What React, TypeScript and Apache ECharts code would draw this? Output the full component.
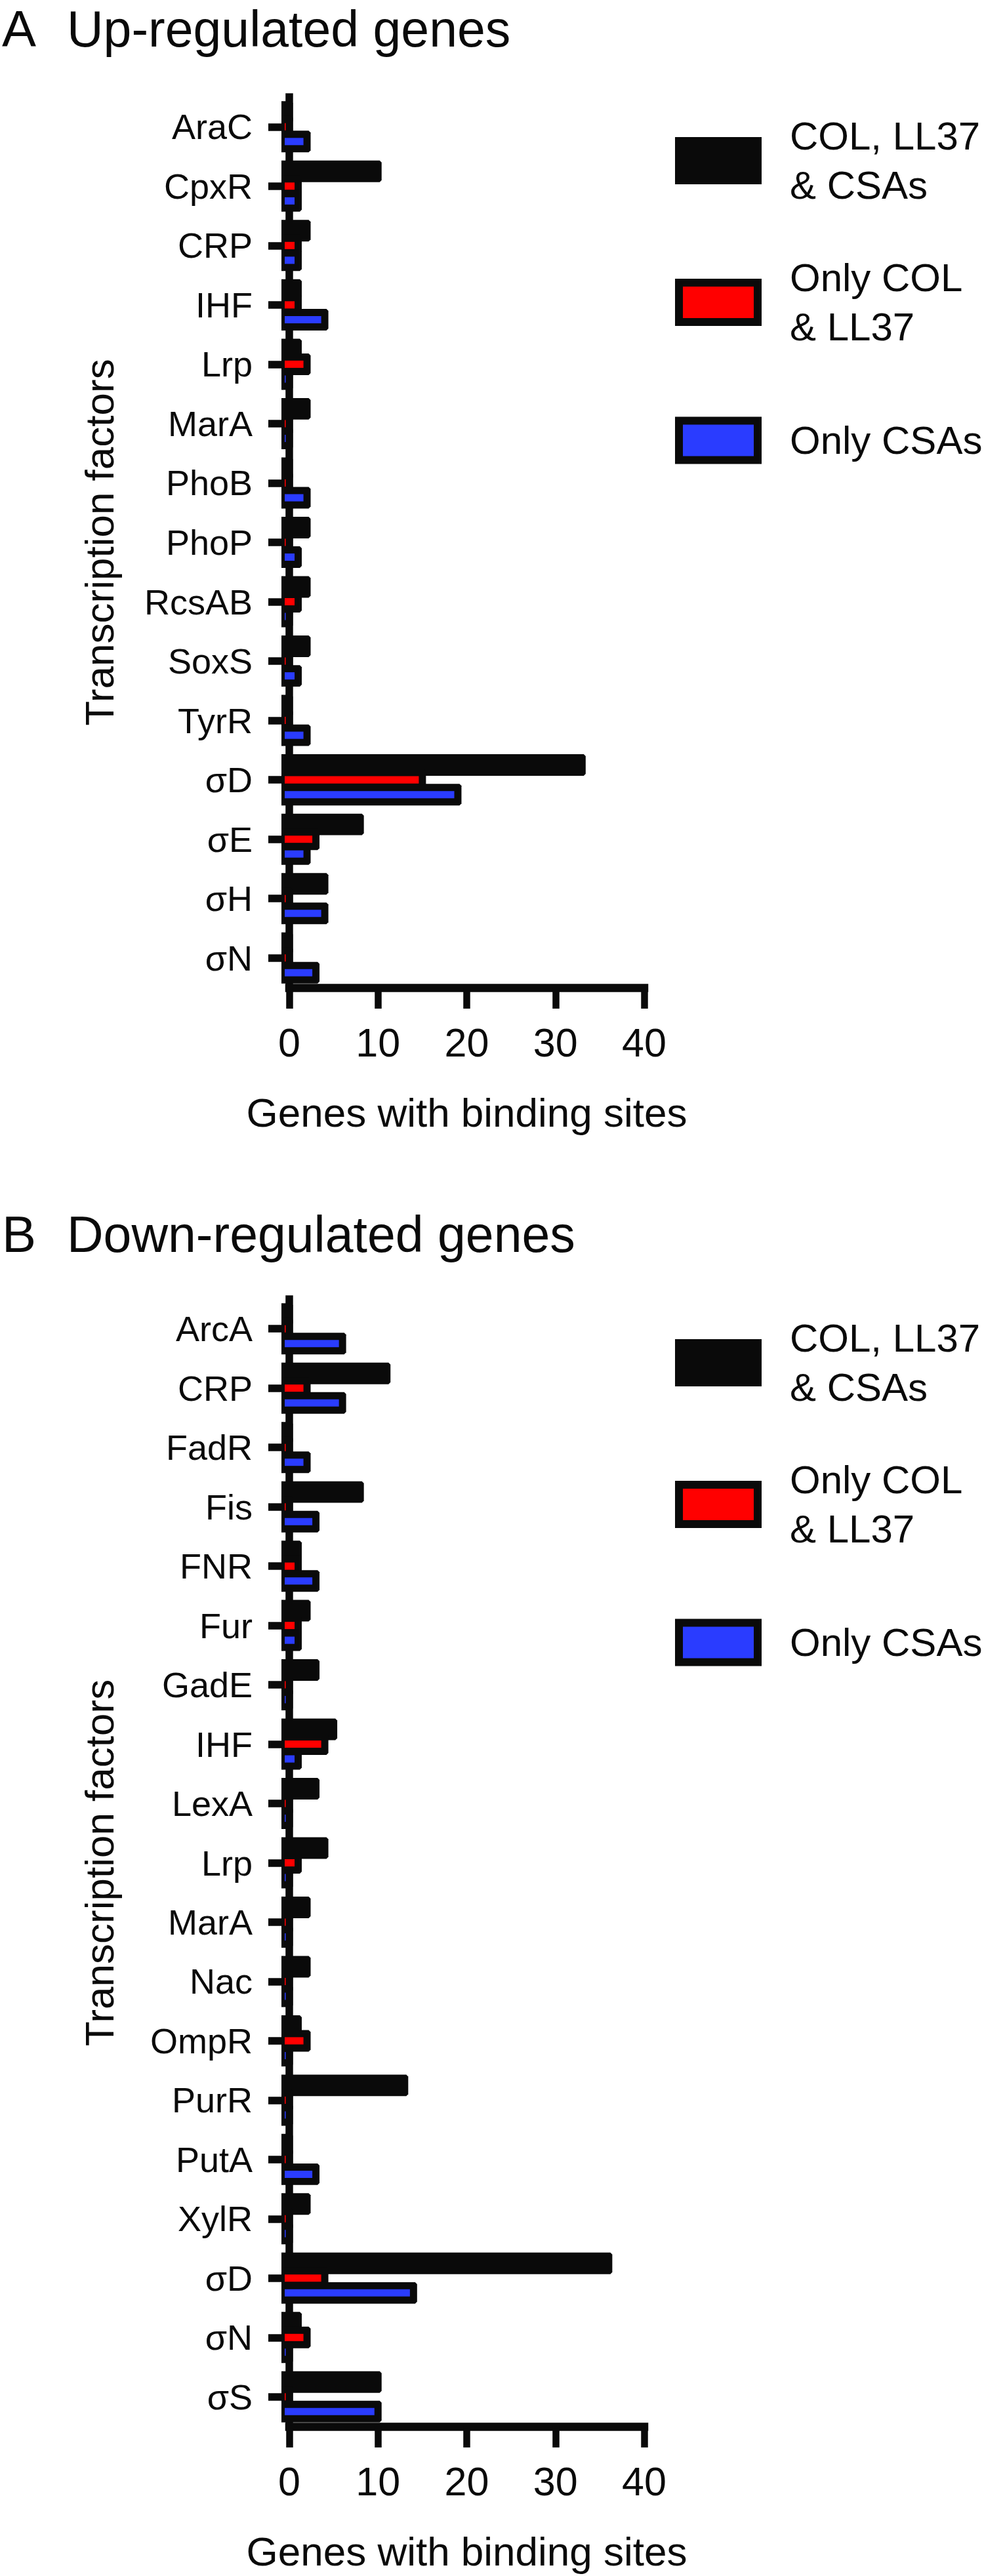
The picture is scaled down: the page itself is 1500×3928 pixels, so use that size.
import React, { useEffect, useRef } from 'react';
import * as echarts from 'echarts';

// ---------- data ----------
const upCategories = ['AraC', 'CpxR', 'CRP', 'IHF', 'Lrp', 'MarA', 'PhoB', 'PhoP', 'RcsAB', 'SoxS', 'TyrR', 'σD', 'σE', 'σH', 'σN'];
const upAll = [0, 10, 2, 1, 1, 2, 0, 2, 2, 2, 0, 33, 8, 4, 0];
const upColLL37 = [0, 1, 1, 1, 2, 0, 0, 0, 1, 0, 0, 15, 3, 0, 0];
const upCSAs = [2, 1, 1, 4, 0, 0, 2, 1, 0, 1, 2, 19, 2, 4, 3];

const downCategories = ['ArcA', 'CRP', 'FadR', 'Fis', 'FNR', 'Fur', 'GadE', 'IHF', 'LexA', 'Lrp', 'MarA', 'Nac', 'OmpR', 'PurR', 'PutA', 'XylR', 'σD', 'σN', 'σS'];
const downAll = [0, 11, 0, 8, 1, 2, 3, 5, 3, 4, 2, 2, 1, 13, 0, 2, 36, 1, 10];
const downColLL37 = [0, 2, 0, 0, 1, 1, 0, 4, 0, 1, 0, 0, 2, 0, 0, 0, 4, 2, 0];
const downCSAs = [6, 6, 2, 3, 3, 1, 0, 1, 0, 0, 0, 0, 0, 0, 3, 0, 14, 0, 10];

const seriesNames = ['COL, LL37 & CSAs', 'Only COL & LL37', 'Only CSAs'];
const legendLabels = ['COL, LL37\n& CSAs', 'Only COL\n& LL37', 'Only CSAs'];
const panelLetters = ['A', 'B'];
const panelTitles = ['Up-regulated genes', 'Down-regulated genes'];
const xAxisTitle = 'Genes with binding sites';
const yAxisTitle = 'Transcription factors';
const xMin = 0;
const xMax = 40;
const xStep = 10;

// ---------- style ----------
const INK = '#0a0a0a';
const RED = '#ff0000';
const BLUE = '#2a3cff';
const FONT = '"Liberation Sans", Arial, Helvetica, sans-serif';
const fills = [null, RED, BLUE];

function makeRender(slot: number, fill: string | null) {
  return (_params: any, api: any) => {
    const cat = api.value(1);
    const v = api.value(0);
    const end = api.coord([v, cat]);
    const zero = api.coord([0, cat]);
    const band = api.size([0, 1])[1];
    const cy = end[1] + slot * band * 0.249;
    const outerH = band * 0.364;
    const innerH = band * 0.122;
    const bw = (outerH - innerH) / 2;
    const x0 = zero[0] - 12;
    const x1 = end[0] + bw / 2;
    const y0 = cy - outerH / 2;
    const y1 = cy + outerH / 2;
    const c = 3;
    const children: any[] = [
      {
        type: 'polygon',
        shape: { points: [[x0, y0], [x1 - c, y0], [x1, y0 + c], [x1, y1 - c], [x1 - c, y1], [x0, y1]] },
        style: { fill: INK },
      },
    ];
    if (fill) {
      children.push({
        type: 'rect',
        shape: { x: zero[0] - 7, y: cy - innerH / 2, width: Math.max(0, end[0] - bw / 2 - (zero[0] - 7)), height: innerH },
        style: { fill },
      });
    }
    return { type: 'group', children };
  };
}

function buildPanel(p: number, cats: string[], sets: number[][], gridTop: number, gridHeight: number) {
  const grid = { left: 441, width: 541, top: gridTop, height: gridHeight, containLabel: false };
  const xAxis = {
    type: 'value',
    gridIndex: p,
    min: xMin,
    max: xMax,
    interval: xStep,
    axisLine: { show: true, onZero: false, lineStyle: { color: INK, width: 12.5, cap: 'square' } },
    axisTick: { show: true, length: 32, lineStyle: { color: INK, width: 10.5 } },
    splitLine: { show: false },
    axisLabel: { margin: 47, fontSize: 61, lineHeight: 73, color: INK, fontFamily: FONT },
    name: xAxisTitle,
    nameLocation: 'middle',
    nameGap: 153,
    nameTextStyle: { fontSize: 62, lineHeight: 74, color: INK, fontFamily: FONT },
  };
  const yAxis = {
    type: 'category',
    gridIndex: p,
    data: cats,
    inverse: true,
    offset: 12,
    axisLine: { show: true, lineStyle: { color: INK, width: 11.5, cap: 'square' } },
    axisTick: { show: true, alignWithLabel: true, length: 32, lineStyle: { color: INK, width: 11.5 } },
    axisLabel: { margin: 44, fontSize: 54, color: INK, fontFamily: FONT },
    splitLine: { show: false },
    name: yAxisTitle,
    nameLocation: 'middle',
    nameGap: 241,
    nameTextStyle: { fontSize: 62, lineHeight: 74, color: INK, fontFamily: FONT },
  };
  const series = sets.map((vals, i) => ({
    type: 'custom',
    name: seriesNames[i],
    xAxisIndex: p,
    yAxisIndex: p,
    encode: { x: 0, y: 1 },
    itemStyle: { color: fills[i] || INK },
    data: vals.map((v, k) => [v, cats[k]]),
    renderItem: makeRender(i - 1, fills[i]),
  }));
  return { grid, xAxis, yAxis, series };
}

function buildLegends(offset: number) {
  const tops = [170, 386, 634];
  return seriesNames.map((name, i) => ({
    left: 1029,
    top: tops[i] + offset,
    orient: 'vertical',
    padding: 0,
    icon: 'rect',
    itemWidth: 120,
    itemHeight: 60,
    selectedMode: false,
    data: [
      {
        name,
        itemStyle: { color: fills[i] || INK, borderColor: INK, borderWidth: 12 },
      },
    ],
    formatter: () => legendLabels[i],
    textStyle: { fontSize: 60, lineHeight: 75, color: INK, fontFamily: FONT, padding: [0, 0, 0, 44] },
  }));
}

export default function App() {
  const ref = useRef<HTMLDivElement>(null);
  useEffect(() => {
    if (!ref.current) return;
    const chart = echarts.init(ref.current, null, { renderer: 'svg' });
    const A = buildPanel(0, upCategories, [upAll, upColLL37, upCSAs], 148, 1358);
    const B = buildPanel(1, downCategories, [downAll, downColLL37, downCSAs], 1981, 1725);
    // middle-line y positions for [letter, title]
    const titleY = [[44, 44], [1882, 1882]];
    const graphic: any[] = [];
    panelLetters.forEach((letter, i) => {
      graphic.push({
        type: 'text',
        x: 3,
        y: titleY[i][0],
        style: { text: letter, font: `78px ${FONT}`, fill: INK, align: 'left', verticalAlign: 'middle', lineHeight: 80 },
      });
      graphic.push({
        type: 'text',
        x: 102,
        y: titleY[i][1],
        style: { text: panelTitles[i], font: `77px ${FONT}`, fill: INK, align: 'left', verticalAlign: 'middle', lineHeight: 80 },
      });
    });
    chart.setOption({
      animation: false,
      backgroundColor: '#ffffff',
      grid: [A.grid, B.grid],
      xAxis: [A.xAxis, B.xAxis],
      yAxis: [A.yAxis, B.yAxis],
      legend: [...buildLegends(0), ...buildLegends(1833)],
      series: [...A.series, ...B.series],
      graphic,
    });
    return () => chart.dispose();
  }, []);
  return <div ref={ref} style={{ position: 'absolute', left: 0, top: 0, width: 1500, height: 3928 }} />;
}
